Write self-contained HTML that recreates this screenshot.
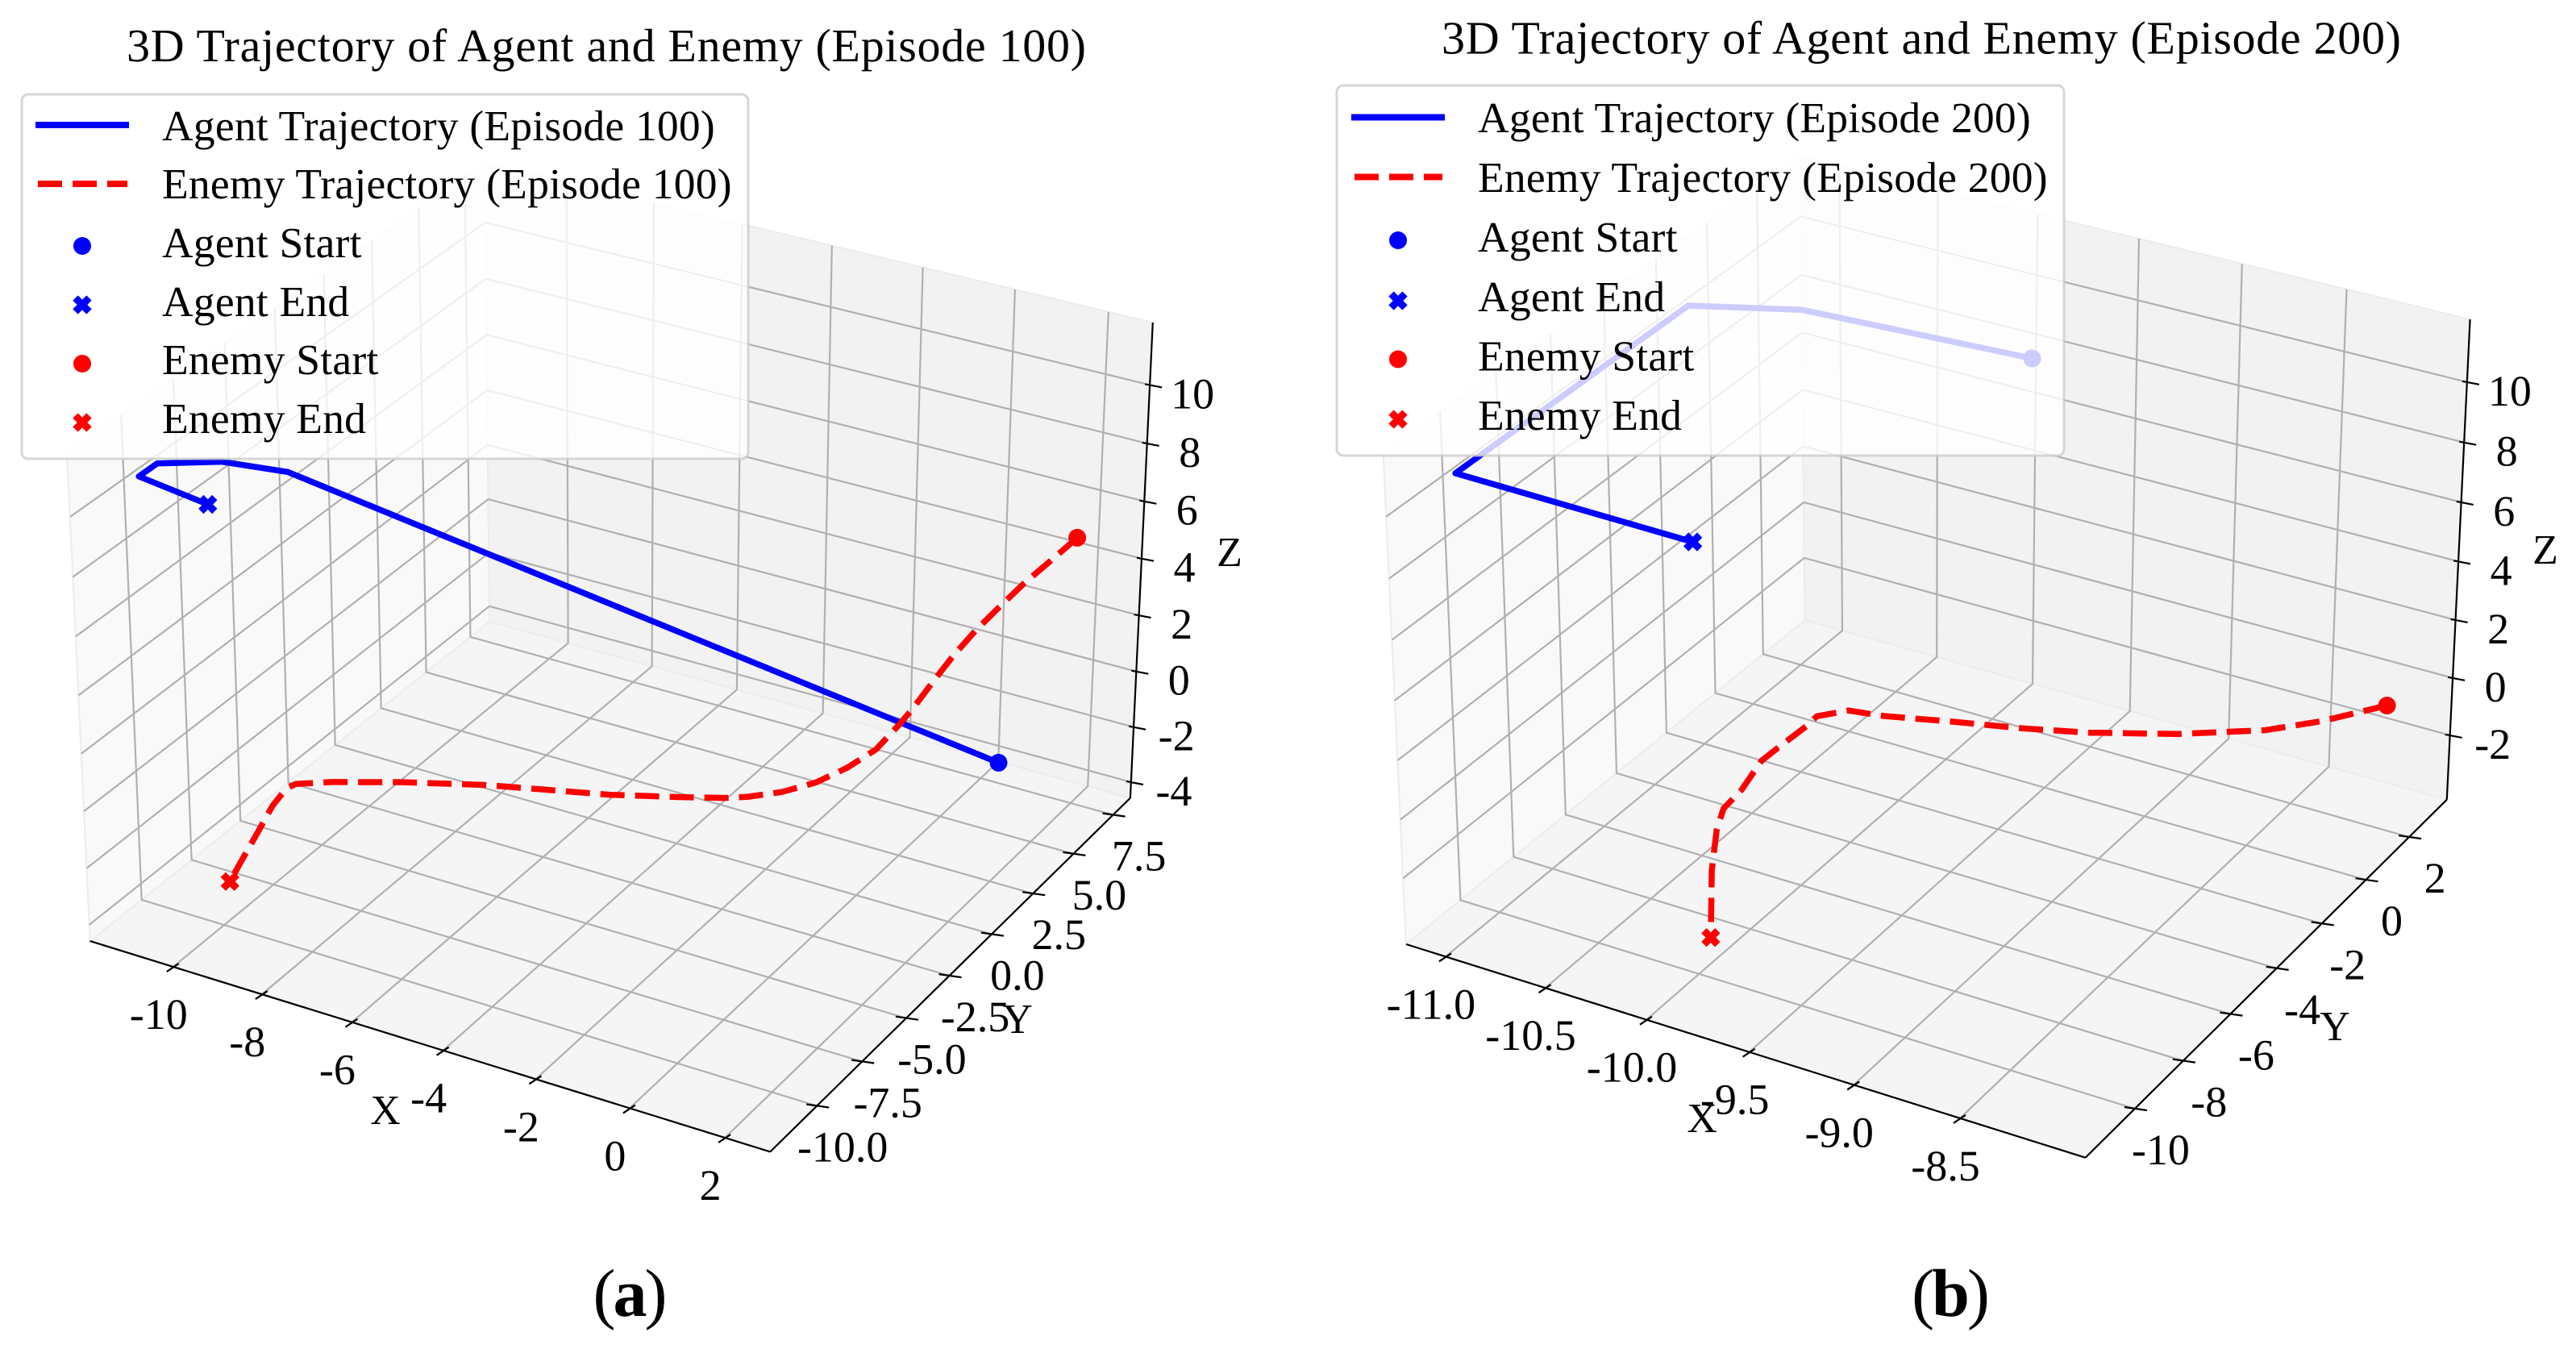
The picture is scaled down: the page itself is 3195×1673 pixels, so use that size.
<!DOCTYPE html>
<html lang="en">
<head>
<meta charset="utf-8">
<title>3D Trajectory of Agent and Enemy</title>
<style>
html,body{margin:0;padding:0;background:#fff;}
svg{display:block;font-family:"Liberation Serif","Times New Roman",serif;text-rendering:geometricPrecision;}
</style>
</head>
<body>
<svg id="figure" xmlns="http://www.w3.org/2000/svg" width="3195" height="1673" viewBox="0 0 3195 1673">
  <g id="plot-a"></g>
  <g id="plot-b"></g>

  <text x="157" y="76" font-size="58" textLength="1190" lengthAdjust="spacing">3D Trajectory of Agent and Enemy (Episode 100)</text>
  <text x="1788" y="66.5" font-size="58" textLength="1190" lengthAdjust="spacing">3D Trajectory of Agent and Enemy (Episode 200)</text>

  <g font-size="52" text-anchor="middle">
    <text x="478" y="1394">X</text>
    <text x="1262" y="1281">Y</text>
    <text x="1525" y="702">Z</text>
  </g>
  <g font-size="52" text-anchor="middle">
    <text x="2111" y="1404">X</text>
    <text x="2896" y="1290">Y</text>
    <text x="3157" y="699">Z</text>
  </g>

  <g>
    <rect x="27" y="117" width="901" height="452" rx="8" fill="rgba(255,255,255,0.8)" stroke="rgba(204,204,204,0.8)" stroke-width="3"/>
    <line x1="44" x2="160" y1="155" y2="155" stroke="#0000ff" stroke-width="8"/>
    <line x1="47" x2="158" y1="228" y2="228" stroke="#ff0000" stroke-width="8" stroke-dasharray="30 13"/>
    <circle cx="102" cy="305" r="11" fill="#0000ff"/>
    <path d="M93.5 369.5L110.5 386.5M93.5 386.5L110.5 369.5" stroke="#0000ff" stroke-width="9" fill="none"/>
    <circle cx="102" cy="451" r="11" fill="#ff0000"/>
    <path d="M93.5 515.5L110.5 532.5M93.5 532.5L110.5 515.5" stroke="#ff0000" stroke-width="9" fill="none"/>
    <g font-size="53.5" letter-spacing="0.23">
      <text x="201" y="174">Agent Trajectory (Episode 100)</text>
      <text x="201" y="246">Enemy Trajectory (Episode 100)</text>
      <text x="201" y="319">Agent Start</text>
      <text x="201" y="392">Agent End</text>
      <text x="201" y="464">Enemy Start</text>
      <text x="201" y="537">Enemy End</text>
    </g>
  </g>

  <g>
    <rect x="1658" y="106" width="902" height="459" rx="8" fill="rgba(255,255,255,0.8)" stroke="rgba(204,204,204,0.8)" stroke-width="3"/>
    <line x1="1676" x2="1792" y1="145.5" y2="145.5" stroke="#0000ff" stroke-width="8"/>
    <line x1="1680" x2="1789" y1="219.5" y2="219.5" stroke="#ff0000" stroke-width="8" stroke-dasharray="30 13"/>
    <circle cx="1734" cy="298" r="11" fill="#0000ff"/>
    <path d="M1725.5 364.5L1742.5 381.5M1725.5 381.5L1742.5 364.5" stroke="#0000ff" stroke-width="9" fill="none"/>
    <circle cx="1734" cy="445.5" r="11" fill="#ff0000"/>
    <path d="M1725.5 511.5L1742.5 528.5M1725.5 528.5L1742.5 511.5" stroke="#ff0000" stroke-width="9" fill="none"/>
    <g font-size="53.5" letter-spacing="0.23">
      <text x="1833" y="164">Agent Trajectory (Episode 200)</text>
      <text x="1833" y="238">Enemy Trajectory (Episode 200)</text>
      <text x="1833" y="312">Agent Start</text>
      <text x="1833" y="386">Agent End</text>
      <text x="1833" y="459.5">Enemy Start</text>
      <text x="1833" y="533">Enemy End</text>
    </g>
  </g>

  <text x="780" y="1632" font-size="84" letter-spacing="-3" text-anchor="middle">(<tspan font-weight="bold">a</tspan>)</text>
  <text x="2418" y="1632" font-size="84" letter-spacing="-3" text-anchor="middle">(<tspan font-weight="bold">b</tspan>)</text>
</svg>

<script>
// ---- Panel (a): Episode 100 ----
const xLimA = [-11.9, 2.94];
const yLimA = [-12.53, 8.6];
const zLimA = [-4.58, 12.11];
const xTicksA = [-10, -8, -6, -4, -2, 0, 2];
const yTicksA = [-10, -7.5, -5, -2.5, 0, 2.5, 5, 7.5];
const zTicksA = [-4, -2, 0, 2, 4, 6, 8, 10];
const xTickLabelsA = ['-10', '-8', '-6', '-4', '-2', '0', '2'];
const yTickLabelsA = ['-10.0', '-7.5', '-5.0', '-2.5', '0.0', '2.5', '5.0', '7.5'];
const zTickLabelsA = ['-4', '-2', '0', '2', '4', '6', '8', '10'];
const agentXA = [0.97, -9.00, -9.87, -10.72, -10.97, -10.07];
const agentYA = [5.79, -8.38, -9.64, -10.85, -11.21, -9.93];
const agentZA = [-2.63, 10.60, 11.21, 11.41, 11.06, 9.86];
const enemyXA = [1.99, 1.59, 1.25, 0.91, 0.57, 0.26, -0.02, -0.30, -0.49, -0.82, -1.23, -1.68, -2.17, -2.65, -2.98, -3.65, -4.63, -5.61, -6.39, -7.55, -8.52, -9.00, -9.13, -9.33, -9.56, -9.81, -9.95];
const enemyYA = [7.25, 6.67, 6.19, 5.71, 5.23, 4.78, 4.39, 3.99, 3.71, 3.25, 2.66, 2.02, 1.33, 0.63, 0.16, -0.78, -2.18, -3.58, -4.68, -6.33, -7.71, -8.40, -8.59, -8.87, -9.20, -9.55, -9.75];
const enemyZA = [5.02, 4.28, 3.67, 2.96, 2.22, 1.43, 0.61, -0.25, -0.76, -1.55, -2.07, -2.45, -2.63, -2.63, -2.56, -2.31, -1.89, -1.36, -0.95, -0.46, -0.13, -0.03, -0.13, -0.68, -1.60, -2.58, -3.15];

// ---- Panel (b): Episode 200 ----
const xLimB = [-11.2, -7.92];
const yLimB = [-12.0, 3.78];
const zLimB = [-4.27, 12.05];
const xTicksB = [-11, -10.5, -10, -9.5, -9, -8.5];
const yTicksB = [-10, -8, -6, -4, -2, 0, 2];
const zTicksB = [-2, 0, 2, 4, 6, 8, 10];
const xTickLabelsB = ['-11.0', '-10.5', '-10.0', '-9.5', '-9.0', '-8.5'];
const yTickLabelsB = ['-10', '-8', '-6', '-4', '-2', '0', '2'];
const zTickLabelsB = ['-2', '0', '2', '4', '6', '8', '10'];
const agentXB = [-10.02, -11.2, -11.2, -11.2, -11.2];
const agentYB = [3.78, 3.78, -0.79, -9.56, -0.79];
const agentZB = [7.14, 6.79, 9.75, 9.79, 1.65];
const enemyXB = [-8.13, -8.34, -8.52, -8.80, -9.08, -9.29, -9.51, -9.72, -9.83, -9.93, -9.96, -10.05, -10.10, -10.16, -10.22, -10.24, -10.25, -10.26, -10.05];
const enemyYB = [2.78, 1.74, 0.91, -0.45, -1.81, -2.81, -3.89, -4.89, -5.42, -5.87, -6.05, -6.45, -6.71, -7.02, -7.27, -7.39, -7.43, -7.46, -9.15];
const enemyZB = [-0.66, -0.88, -0.95, -0.66, -0.19, 0.26, 0.83, 1.32, 1.67, 1.60, 1.33, 0.71, 0.35, -0.53, -1.11, -1.77, -2.49, -3.20, -3.78];

// Screen calibration of the axes box (unit-cube corner -> figure position).
const boxCornersA = [[0,0,0,112,1168],[1,0,0,955,1428],[1,1,0,1402,990],[0,1,0,607,770],[0,0,1,83,561],[0,1,1,601,202],[1,1,1,1430,400]];
const boxCornersB = [[0,0,0,1744,1170],[1,0,0,2587,1436],[1,1,0,3035,991.6],[0,1,0,2238,770],[0,0,1,1715,562],[0,1,1,2234,193],[1,1,1,3063,396]];

const SVGNS = 'http://www.w3.org/2000/svg';

function solveLinear(A, b) {
  const n = b.length;
  for (let i = 0; i < n; i++) {
    let p = i;
    for (let r = i + 1; r < n; r++) if (Math.abs(A[r][i]) > Math.abs(A[p][i])) p = r;
    [A[i], A[p]] = [A[p], A[i]];
    [b[i], b[p]] = [b[p], b[i]];
    for (let r = i + 1; r < n; r++) {
      const f = A[r][i] / A[i][i];
      for (let c = i; c < n; c++) A[r][c] -= f * A[i][c];
      b[r] -= f * b[i];
    }
  }
  const out = new Array(n).fill(0);
  for (let i = n - 1; i >= 0; i--) {
    let s = b[i];
    for (let c = i + 1; c < n; c++) s -= A[i][c] * out[c];
    out[i] = s / A[i][i];
  }
  return out;
}

// Least-squares projective camera through the calibrated box corners.
function fitCamera(corners) {
  const rows = [], rhs = [];
  corners.forEach(function (k) {
    const u = k[0], v = k[1], w = k[2], X = k[3] / 1000, Y = k[4] / 1000;
    rows.push([u, v, w, 1, 0, 0, 0, 0, -X * u, -X * v, -X * w]);
    rhs.push(X);
    rows.push([0, 0, 0, 0, u, v, w, 1, -Y * u, -Y * v, -Y * w]);
    rhs.push(Y);
  });
  const N = [], B = [];
  for (let i = 0; i < 11; i++) {
    N.push(new Array(11).fill(0));
    B.push(0);
    for (let r = 0; r < rows.length; r++) {
      B[i] += rows[r][i] * rhs[r];
      for (let j = 0; j < 11; j++) N[i][j] += rows[r][i] * rows[r][j];
    }
  }
  const m = solveLinear(N, B);
  return function (u, v, w) {
    const d = m[8] * u + m[9] * v + m[10] * w + 1;
    return [
      1000 * (m[0] * u + m[1] * v + m[2] * w + m[3]) / d,
      1000 * (m[4] * u + m[5] * v + m[6] * w + m[7]) / d
    ];
  };
}

function linearScale(lim) {
  return function (value) { return (value - lim[0]) / (lim[1] - lim[0]); };
}

function make(tag, parent, attrs) {
  const node = document.createElementNS(SVGNS, tag);
  Object.keys(attrs).forEach(function (key) { node.setAttribute(key, attrs[key]); });
  parent.appendChild(node);
  return node;
}

function pointsText(list) {
  return list.map(function (p) { return p[0].toFixed(1) + ',' + p[1].toFixed(1); }).join(' ');
}

function drawPanel(root, suffix, corners, lims, ticks, labels, agent, enemy) {
  const cam = fitCamera(corners);
  const sx = linearScale(lims[0]), sy = linearScale(lims[1]), sz = linearScale(lims[2]);
  const toScreen = function (x, y, z) { return cam(sx(x), sy(y), sz(z)); };

  const panes = [
    { name: 'left-wall', fill: '#f9f9f9', pts: [[0,0,0],[0,0,1],[0,1,1],[0,1,0]] },
    { name: 'back-wall', fill: '#f2f2f2', pts: [[0,1,0],[0,1,1],[1,1,1],[1,1,0]] },
    { name: 'floor', fill: '#f5f5f5', pts: [[0,0,0],[1,0,0],[1,1,0],[0,1,0]] }
  ];
  panes.forEach(function (pane) {
    const poly = make('polygon', root, {
      points: pointsText(pane.pts.map(function (q) { return cam(q[0], q[1], q[2]); })),
      fill: pane.fill, stroke: '#ececec', 'stroke-width': 2
    });
    
    
  });

  const gridGroup = make('g', root, { stroke: '#b0b0b0', 'stroke-width': 2.2, fill: 'none' });
  
  
  const gridPath = function (a, b, c) {
    const p = make('polyline', gridGroup, { points: pointsText([a, b, c]) });
    
    
  };
  ticks[0].forEach(function (t) {
    const u = sx(t);
    gridPath(cam(u, 0, 0), cam(u, 1, 0), cam(u, 1, 1));
  });
  ticks[1].forEach(function (t) {
    const v = sy(t);
    gridPath(cam(1, v, 0), cam(0, v, 0), cam(0, v, 1));
  });
  ticks[2].forEach(function (t) {
    const w = sz(t);
    gridPath(cam(0, 0, w), cam(0, 1, w), cam(1, 1, w));
  });

  const axisGroup = make('g', root, { stroke: '#000', 'stroke-width': 2.2, fill: 'none' });
  
  
  const axisLines = [
    ['x-axis-line', cam(0, 0, 0), cam(1, 0, 0)],
    ['y-axis-line', cam(1, 0, 0), cam(1, 1, 0)],
    ['z-axis-line', cam(1, 1, 0), cam(1, 1, 1)]
  ];
  axisLines.forEach(function (a) {
    const line = make('polyline', axisGroup, { points: pointsText([a[1], a[2]]) });
    
    
  });

  const tickStyle = [
    { axis: 'x', inner: [7, -4], outer: [-8, 6], label: [-18, 77] },
    { axis: 'y', inner: [-13, -2], outer: [15, 2], label: [32, 69] },
    { axis: 'z', inner: [-6, -1], outer: [15, 3], label: [53, 29] }
  ];
  const tickPosition = [
    function (t) { return toScreen(t, lims[1][0], lims[2][0]); },
    function (t) { return toScreen(lims[0][1], t, lims[2][0]); },
    function (t) { return toScreen(lims[0][1], lims[1][1], t); }
  ];
  tickStyle.forEach(function (style, axisIndex) {
    ticks[axisIndex].forEach(function (t, i) {
      const p = tickPosition[axisIndex](t);
      const mark = make('polyline', axisGroup, {
        points: pointsText([[p[0] + style.inner[0], p[1] + style.inner[1]], [p[0] + style.outer[0], p[1] + style.outer[1]]])
      });
      
      
      const text = make('text', root, {
        x: (p[0] + style.label[0]).toFixed(1),
        y: (p[1] + style.label[1]).toFixed(1),
        'font-size': 54,
        'text-anchor': 'middle',
        fill: '#000'
      });
      text.textContent = labels[axisIndex][i];
      
      
    });
  });

  const series = function (data, color, dash, name) {
    const pts = data[0].map(function (x, i) { return toScreen(x, data[1][i], data[2][i]); });
    const attrs = {
      points: pointsText(pts), fill: 'none', stroke: color, 'stroke-width': 7.5,
      'stroke-linejoin': 'round'
    };
    if (dash) attrs['stroke-dasharray'] = dash;
    const line = make('polyline', root, attrs);
    
    

    const start = make('circle', root, { cx: pts[0][0].toFixed(1), cy: pts[0][1].toFixed(1), r: 11, fill: color });
    
    

    const last = pts[pts.length - 1];
    const r = 8.5;
    const end = make('path', root, {
      d: 'M' + (last[0] - r) + ' ' + (last[1] - r) + 'L' + (last[0] + r) + ' ' + (last[1] + r) +
         'M' + (last[0] - r) + ' ' + (last[1] + r) + 'L' + (last[0] + r) + ' ' + (last[1] - r),
      stroke: color, 'stroke-width': 9, fill: 'none'
    });
    
    
  };
  series(agent, '#0000ff', null, 'agent');
  series(enemy, '#ff0000', '30 13', 'enemy');
}

drawPanel(document.getElementById('plot-a'), 'a', boxCornersA,
  [xLimA, yLimA, zLimA],
  [xTicksA, yTicksA, zTicksA],
  [xTickLabelsA, yTickLabelsA, zTickLabelsA],
  [agentXA, agentYA, agentZA],
  [enemyXA, enemyYA, enemyZA]);

drawPanel(document.getElementById('plot-b'), 'b', boxCornersB,
  [xLimB, yLimB, zLimB],
  [xTicksB, yTicksB, zTicksB],
  [xTickLabelsB, yTickLabelsB, zTickLabelsB],
  [agentXB, agentYB, agentZB],
  [enemyXB, enemyYB, enemyZB]);
</script>
</body>
</html>
